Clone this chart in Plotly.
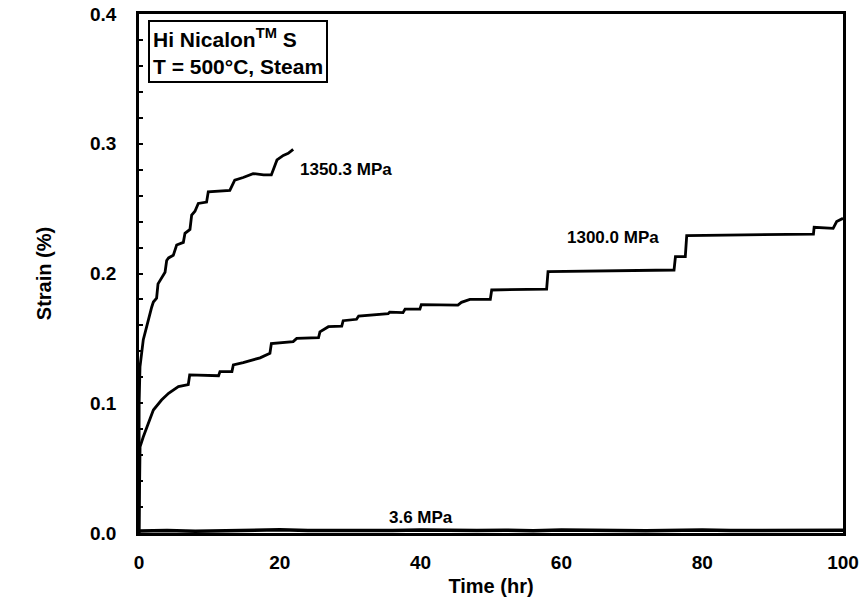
import plotly.graph_objects as go

# 1350.3 MPa creep curve
t_1350 = [0, 0.02, 0.14, 0.38, 0.61, 1.09, 1.56, 1.8, 2.04, 2.5, 2.7, 3.45, 3.7, 3.93, 4.2, 4.87, 5.35, 6.3, 6.53, 7.24,
          7.48, 7.95, 8.42, 9.6, 9.84, 12.9, 13.6, 14.8, 16.2, 17.7, 18.8, 19.6, 20.5, 21.2, 21.9]
s_1350 = [0, 0.10, 0.128, 0.141, 0.149, 0.159, 0.170, 0.174, 0.178, 0.181, 0.192, 0.199, 0.201, 0.210, 0.212, 0.214,
          0.222, 0.224, 0.231, 0.234, 0.245, 0.248, 0.254, 0.255, 0.263, 0.264, 0.272, 0.274, 0.277, 0.276, 0.276,
          0.2875, 0.291, 0.2926, 0.2957]

# 1300.0 MPa creep curve
t_1300 = [0, 0.05, 0.15, 0.6, 1.33, 2.04, 3.2, 4.2, 5.6, 7.0, 7.2, 11.3, 11.5, 13.2, 13.4, 14.8, 17.2, 18.6, 18.8, 21.9,
          22.4, 25.5, 25.7, 26.9, 28.8, 29.0, 30.9, 31.2, 35.4, 35.6, 37.5, 37.8, 39.9, 40.1, 45.3, 45.8, 47.0, 49.9,
          50.1, 57.9, 58.1, 65.5, 76.0, 76.2, 77.6, 77.8, 95.8, 95.9, 98.6, 99.1, 100]
s_1300 = [0, 0.05, 0.0665, 0.074, 0.0845, 0.0948, 0.1025, 0.1077, 0.1128, 0.1144, 0.1218, 0.1212, 0.1244, 0.1244,
          0.1295, 0.1313, 0.135, 0.1385, 0.146, 0.1475, 0.150, 0.1505, 0.155, 0.159, 0.1595, 0.1636, 0.1647, 0.1672,
          0.169, 0.1702, 0.1698, 0.1726, 0.1726, 0.176, 0.1757, 0.1778, 0.180, 0.180, 0.1873, 0.188, 0.2015, 0.2022,
          0.2027, 0.213, 0.213, 0.2292, 0.2304, 0.2356, 0.2348, 0.240, 0.2425]

# 3.6 MPa curve (near zero)
t_36 = [0, 4, 8, 12, 16, 20, 24, 28, 32, 36, 40, 44, 48, 52, 56, 60, 64, 68, 72, 76, 80, 84, 88, 92, 96, 100]
s_36 = [0.0015, 0.0019, 0.0014, 0.0017, 0.0019, 0.0025, 0.0020, 0.0018, 0.0021, 0.0019, 0.0024, 0.0020, 0.0019,
        0.0021, 0.0018, 0.0023, 0.0019, 0.0020, 0.0018, 0.0021, 0.0023, 0.0019, 0.0020, 0.0018, 0.0019, 0.0021]

x_ticks = [0, 20, 40, 60, 80, 100]
y_ticks = [0.0, 0.1, 0.2, 0.3, 0.4]
y_tick_text = ["0.0", "0.1", "0.2", "0.3", "0.4"]

fig = go.Figure()
line = dict(color="black", width=2.8)
fig.add_trace(go.Scatter(x=t_1350, y=s_1350, mode="lines", line=line, showlegend=False))
fig.add_trace(go.Scatter(x=t_1300, y=s_1300, mode="lines", line=line, showlegend=False))
fig.add_trace(go.Scatter(x=t_36, y=s_36, mode="lines", line=dict(color="black", width=3.5), showlegend=False))

FONT = "Arial, Liberation Sans, sans-serif"
fig.update_layout(
    width=864, height=602,
    margin=dict(l=139, r=21, t=14, b=69),
    plot_bgcolor="white", paper_bgcolor="white",
    font=dict(family=FONT, size=19, color="black", weight="bold"),
    xaxis=dict(range=[0, 100], tickvals=x_ticks, ticks="", showgrid=False, zeroline=False,
               showline=True, linecolor="black", linewidth=2.5, mirror=True, automargin=False,
               ticklabelstandoff=10,
               title=dict(text="Time (hr)", font=dict(size=20, weight="bold"), standoff=8),
               tickfont=dict(size=19, weight="bold")),
    yaxis=dict(range=[0, 0.4], tickvals=y_ticks, ticktext=y_tick_text, ticks="inside", ticklen=4,
               tickcolor="black", tickwidth=1.5, showgrid=False, zeroline=False,
               showline=True, linecolor="black", linewidth=2.5, mirror=True, automargin=False,
               ticklabelstandoff=16,
               minor=dict(dtick=0.02, ticks="inside", ticklen=4, tickcolor="black", tickwidth=1.5),
               title=dict(text="Strain (%)", font=dict(size=20, weight="bold"), standoff=34),
               tickfont=dict(size=19, weight="bold")),
)

fig.add_annotation(x=22.6, y=0.2798, text="1350.3 MPa", showarrow=False, xanchor="left", yanchor="middle",
                   font=dict(size=17, weight="bold"))
fig.add_annotation(x=60.5, y=0.228, text="1300.0 MPa", showarrow=False, xanchor="left", yanchor="middle",
                   font=dict(size=17, weight="bold"))
fig.add_annotation(x=40.1, y=0.0123, text="3.6 MPa", showarrow=False, xanchor="center", yanchor="middle",
                   font=dict(size=17, weight="bold"))
fig.add_annotation(x=1.3, y=0.3954, text="Hi Nicalon<sup>TM</sup> S<br>T = 500°C, Steam", showarrow=False,
                   xanchor="left", yanchor="top", align="left", bordercolor="black", borderwidth=2,
                   borderpad=3, bgcolor="white", font=dict(size=21, weight="bold"))

fig.write_html("out.html", config={"displayModeBar": False},
               post_script="document.body.style.margin='0';")
